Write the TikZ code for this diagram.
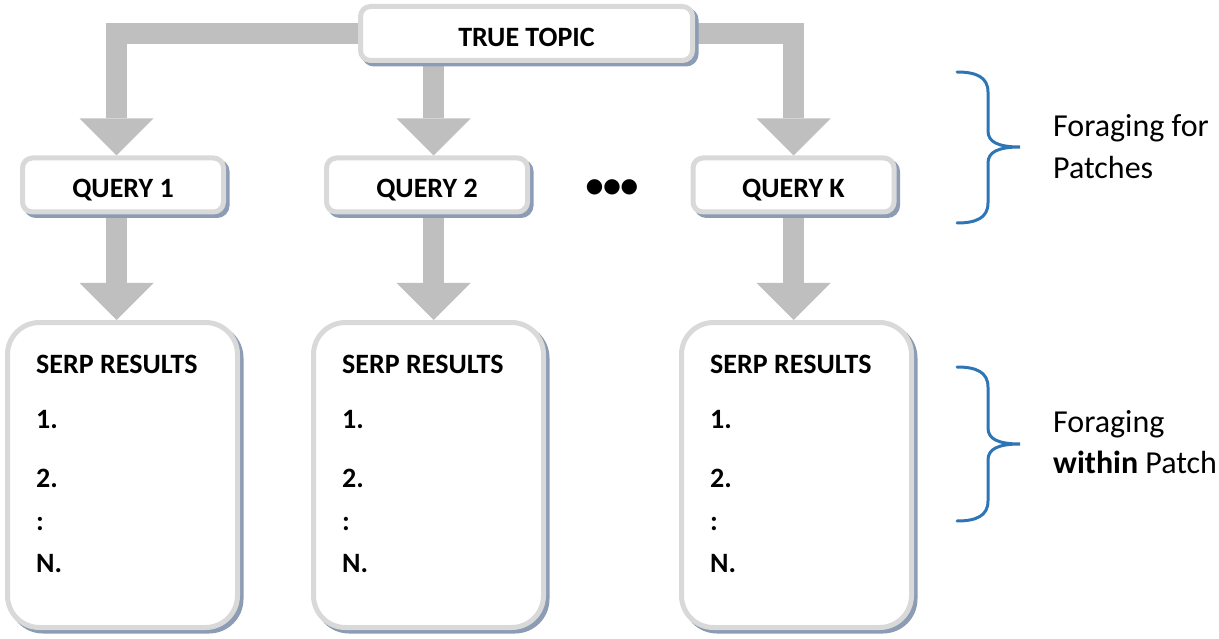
\documentclass[tikz,border=0pt]{standalone}
\usepackage{fontspec}
\setmainfont{Carlito}
\newfontfamily\symfont{DejaVu Sans}
\usetikzlibrary{arrows.meta,shadows,backgrounds,calc}
\definecolor{arrowgray}{HTML}{BFBFBF}
\definecolor{boxline}{HTML}{D9D9D9}
\definecolor{boxshadow}{HTML}{8C9CB4}
\definecolor{braceblue}{HTML}{2E75B6}
\begin{document}
\begin{tikzpicture}[x=1pt,y=-1pt,
  card/.style={draw=boxline, line width=5pt, fill=white,
    general shadow={fill=boxshadow, draw=boxshadow, line width=5pt,
                    shadow xshift=3.5pt, shadow yshift=-3.5pt}},
  headbox/.style={card, rounded corners=10pt, inner sep=0pt,
    minimum height=54pt, font=\bfseries\fontsize{28}{34}\selectfont,
    text height=30pt, text depth=4pt},
  topicbox/.style={headbox, minimum width=332pt},
  querybox/.style={headbox, minimum width=201pt},
  serpbox/.style={card, rounded corners=32pt, minimum width=230pt, minimum height=305pt},
  item/.style={anchor=base west, inner sep=0pt, font=\bfseries\fontsize{28}{34}\selectfont},
  fat/.style={draw=arrowgray, line width=21pt, line join=miter,
    -{Triangle[width=74pt,length=37pt,line width=0pt]}},
  brace/.style={draw=braceblue, line width=3pt, line cap=round},
  lab/.style={anchor=base west, inner sep=0pt, font=\fontsize{32}{38}\selectfont}]
\useasboundingbox (0,0) rectangle (1219,639);

% top level and query boxes
\node[topicbox] (topic) at (526.5,33.5) {TRUE TOPIC};
\node[querybox] (q1) at (123,185) {QUERY 1};
\node[querybox] (q2) at (427,185) {QUERY 2};
\node[querybox] (qk) at (793.5,185) {QUERY K};
\node[font=\symfont\fontsize{20}{20}\selectfont, inner sep=0pt] (dots) at (612,187) {●●●};

% result lists
\foreach \s/\cx in {s1/122.5, s2/428.5, sk/796.5}{
  \node[serpbox] (\s) at (\cx,475) {};
  \node[item] (\s-h) at ($(\s.north west)+(31,53)$) {SERP RESULTS};
  \node[item] (\s-a) at ($(\s.north west)+(31,108)$) {1.};
  \node[item] (\s-b) at ($(\s.north west)+(31,167)$) {2.};
  \node[item] (\s-c) at ($(\s.north west)+(31,210)$) {:};
  \node[item] (\s-n) at ($(\s.north west)+(31,252)$) {N.};
}

% arrow columns
\coordinate (c1) at (116.5,0);
\coordinate (c2) at (433.5,0);
\coordinate (ck) at (793.5,0);

\begin{pgfonlayer}{background}
  \draw[fat] (topic.west) -| (c1 |- q1.north);
  \draw[fat] (c2 |- topic.south) -- (c2 |- q2.north);
  \draw[fat] (topic.east) -| (ck |- qk.north);
  \draw[fat] (c1 |- q1.south) -- (c1 |- s1.north);
  \draw[fat] (c2 |- q2.south) -- (c2 |- s2.north);
  \draw[fat] (ck |- qk.south) -- (ck |- sk.north);
\end{pgfonlayer}

% braces
\draw[brace] (957,72) .. controls (976,72) and (988,77) .. (988,92)
  -- (988,131) .. controls (988,142) and (998,147) .. (1020,147)
  .. controls (998,147) and (988,152) .. (988,163)
  -- (988,203) .. controls (988,218) and (976,223) .. (957,223);
\draw[brace] (957,367) .. controls (976,367) and (988,372) .. (988,387)
  -- (988,428) .. controls (988,439) and (998,444) .. (1020,444)
  .. controls (998,444) and (988,449) .. (988,460)
  -- (988,501) .. controls (988,516) and (976,521) .. (957,521);

% labels
\node[lab] (l1a) at (1053,137) {Foraging for};
\node[lab] (l1b) at (1053,179) {Patches};
\node[lab] (l2a) at (1053,432) {Foraging};
\node[lab] (l2b) at (1053,473) {\textbf{within} Patch};
\end{tikzpicture}
\end{document}
